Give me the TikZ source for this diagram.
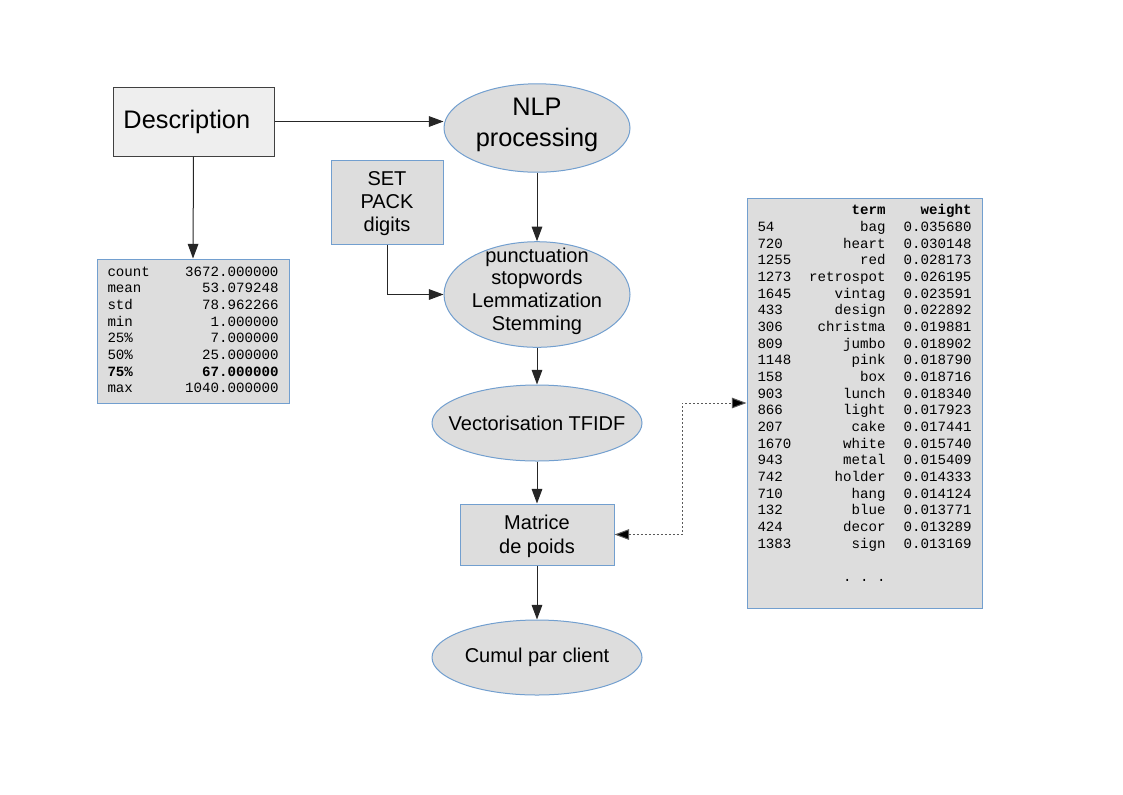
\documentclass[tikz,border=0pt]{standalone}
\usepackage{fontspec}
\setmainfont{Liberation Sans}
\setmonofont{Liberation Mono}
\usepackage{array}
\usetikzlibrary{shapes.geometric,arrows.meta}
\definecolor{bluebd}{HTML}{729FCF}
\definecolor{fillg}{HTML}{DDDDDD}
\definecolor{filll}{HTML}{EEEEEE}
\begin{document}
\begin{tikzpicture}[x=0.75pt,y=-0.75pt,
  ell/.style={ellipse,draw=bluebd,fill=fillg,line width=0.75pt,inner sep=0pt,align=center},
  bluebox/.style={rectangle,draw=bluebd,fill=fillg,line width=0.75pt,inner sep=0pt,align=center},
  arr/.style={line width=0.75pt,draw=black!85,-{Triangle[length=11pt,width=8pt]}},
  dotarr/.style={line width=0.75pt,draw=black!65,dash pattern=on 1.5pt off 1.5pt,
     {Triangle[length=11pt,width=8pt,fill=black]}-{Triangle[length=11pt,width=8pt,fill=black]}},
  tbl/.style={font=\fontsize{10.6}{12.5}\selectfont\ttfamily}
]
\useasboundingbox (0,0) rectangle (1123,794);

\node[rectangle,draw=black!75,fill=filll,line width=0.75pt,minimum width=120.75pt,minimum height=51.75pt,font=\fontsize{19}{23}\selectfont] (desc) at (193.5,121.5) {\hspace*{-10pt}Description};

\node[ell,minimum width=139.5pt,minimum height=65.25pt,font=\fontsize{19}{23.25}\selectfont] (nlp) at (537,128) {\raisebox{2.5pt}[\height][\depth]{\begin{tabular}{@{}c@{}}NLP\\[0.4pt]processing\end{tabular}}};

\node[bluebox,minimum width=84pt,minimum height=63pt,font=\fontsize{15}{17.25}\selectfont] (set) at (387,202) {\raisebox{-1.5pt}[\height][\depth]{\begin{tabular}{@{}c@{}}SET\\PACK\\digits\end{tabular}}};

\node[ell,inner ysep=-6pt,minimum width=139.5pt,minimum height=77.25pt,font=\fontsize{15}{17}\selectfont] (punct) at (537,294.5) {\raisebox{2.25pt}[\height][\depth]{\begin{tabular}{@{}c@{}}punctuation\\stopwords\\Lemmatization\\Stemming\end{tabular}}};

\node[ell,inner xsep=-12pt,minimum width=157.5pt,minimum height=57pt,font=\fontsize{15}{17}\selectfont] (vect) at (537,423) {Vectorisation TFIDF};

\node[bluebox,minimum width=115.5pt,minimum height=45.75pt,font=\fontsize{15}{18}\selectfont] (mat) at (537,534.5) {\raisebox{-1.5pt}[\height][\depth]{\begin{tabular}{@{}c@{}}Matrice\\de poids\end{tabular}}};

\node[ell,inner xsep=-4pt,minimum width=157.5pt,minimum height=56.25pt,font=\fontsize{15}{17}\selectfont] (cumul) at (537,657.5) {Cumul par client};

\node[bluebox,minimum width=144pt,minimum height=108pt,tbl] (stats) at (193,331) {%
\begin{tabular}{@{}p{45pt}@{}>{\raggedleft\arraybackslash}p{83.25pt}@{}}
count & 3672.000000\\
mean & 53.079248\\
std & 78.962266\\
min & 1.000000\\
25\% & 7.000000\\
50\% & 25.000000\\
\textbf{75\%} & \textbf{67.000000}\\
max & 1040.000000
\end{tabular}};

\node[bluebox,minimum width=176.25pt,minimum height=307.5pt,tbl] (terms) at (864.5,403) {%
\begin{tabular}{@{}p{31.5pt}@{}>{\raggedleft\arraybackslash}p{64.5pt}@{}>{\raggedleft\arraybackslash}p{64.5pt}@{}}
 & \textbf{term} & \textbf{weight}\\
54 & bag & 0.035680\\
720 & heart & 0.030148\\
1255 & red & 0.028173\\
1273 & retrospot & 0.026195\\
1645 & vintag & 0.023591\\
433 & design & 0.022892\\
306 & christma & 0.019881\\
809 & jumbo & 0.018902\\
1148 & pink & 0.018790\\
158 & box & 0.018716\\
903 & lunch & 0.018340\\
866 & light & 0.017923\\
207 & cake & 0.017441\\
1670 & white & 0.015740\\
943 & metal & 0.015409\\
742 & holder & 0.014333\\
710 & hang & 0.014124\\
132 & blue & 0.013771\\
424 & decor & 0.013289\\
1383 & sign & 0.013169\\
 & & \\
 & .\ .\ . & \\
 & & \\
\end{tabular}};

\draw[arr] (desc.east) -- (desc.east -| nlp.west);
\draw[arr] (desc.south) -- (stats.north);
\draw[arr] (nlp.south) -- (punct.north);
\draw[arr] (set.south) |- (punct.west);
\draw[arr] (punct.south) -- (vect.north);
\draw[arr] (vect.south) -- (mat.north);
\draw[arr] (mat.south) -- (cumul.north);
\draw[dotarr] (mat.east) -| (682,403) -- (terms.west);
\end{tikzpicture}
\end{document}
